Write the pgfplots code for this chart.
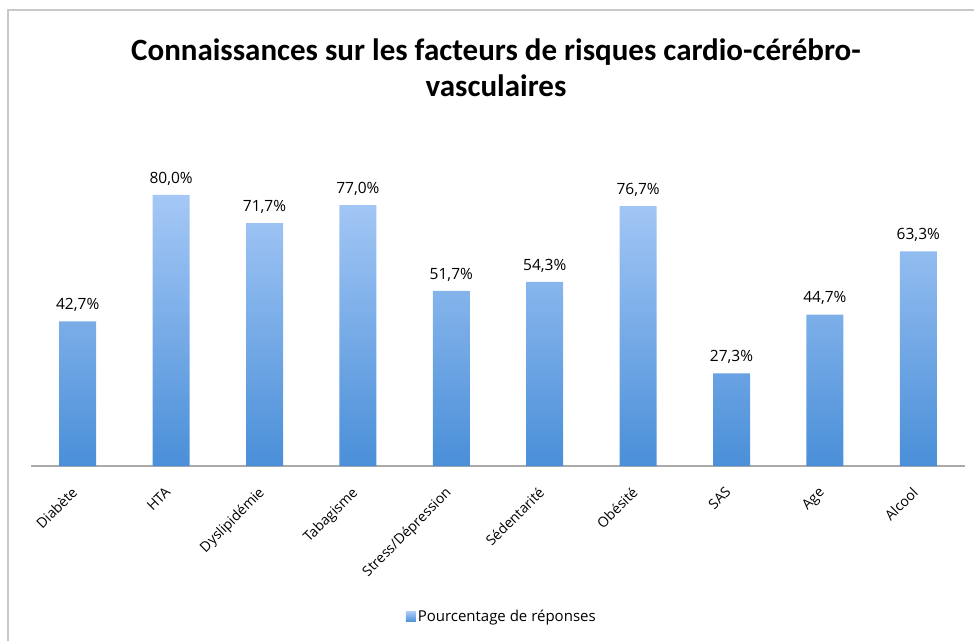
\documentclass[border=0pt]{standalone}
\usepackage{pgfplots}
\pgfplotsset{compat=1.18}
\usepackage{fontspec}
\setmainfont{Open Sans}
\newfontfamily\titlefont{Carlito}
\definecolor{barTop}{RGB}{165,200,246}
\definecolor{barBot}{RGB}{74,143,216}
\definecolor{framegray}{RGB}{200,200,200}
\definecolor{axisgray}{RGB}{170,170,170}
\begin{document}
\begin{tikzpicture}[x=1pt,y=1pt]
\path[use as bounding box] (0,0) rectangle (974,641);
\draw[framegray, line width=1.5pt] (8,0) -- (8,631) -- (974,631);
\node[font=\titlefont\bfseries\fontsize{31}{36}\selectfont, align=center] at (496,573) {Connaissances sur les facteurs de risques cardio-cérébro-\\vasculaires};
\begin{axis}[
  at={(31pt,175pt)}, anchor=south west,
  scale only axis, width=934pt, height=305pt,
  xmin=-0.5, xmax=9.5, ymin=0, ymax=90,
  axis x line*=bottom, hide y axis,
  x axis line style={-, axisgray, line width=1.3pt},
  xtick={0,...,9},
  xticklabels={Diabète,HTA,Dyslipidémie,Tabagisme,Stress/Dépression,Sédentarité,Obésité,SAS,Age,Alcool},
  major tick length=0pt,
  xticklabel style={rotate=45, anchor=north east, inner sep=0pt, xshift=-19pt, yshift=-9pt, font=\fontsize{14}{16}\selectfont},
  legend style={at={(0.504,-0.495)}, anchor=center, draw=none, font=\fontsize{15}{16}\selectfont, inner sep=0pt},
  legend image code/.code={\fill[top color=barTop, bottom color=barBot] (0pt,-5pt) rectangle (10pt,5pt);},
  clip=false,
]
\addplot[ybar, bar width=37pt, draw=none, top color=barTop, bottom color=barBot,
  nodes near coords, point meta=explicit symbolic,
  nodes near coords style={font=\fontsize{15.5}{16}\selectfont, anchor=south, yshift=6pt, text=black}]
coordinates {
(0,42.7) [42,7\%]
(1,80.0) [80,0\%]
(2,71.7) [71,7\%]
(3,77.0) [77,0\%]
(4,51.7) [51,7\%]
(5,54.3) [54,3\%]
(6,76.7) [76,7\%]
(7,27.3) [27,3\%]
(8,44.7) [44,7\%]
(9,63.3) [63,3\%]
};
\addlegendentry{Pourcentage de réponses}
\end{axis}
\end{tikzpicture}
\end{document}
